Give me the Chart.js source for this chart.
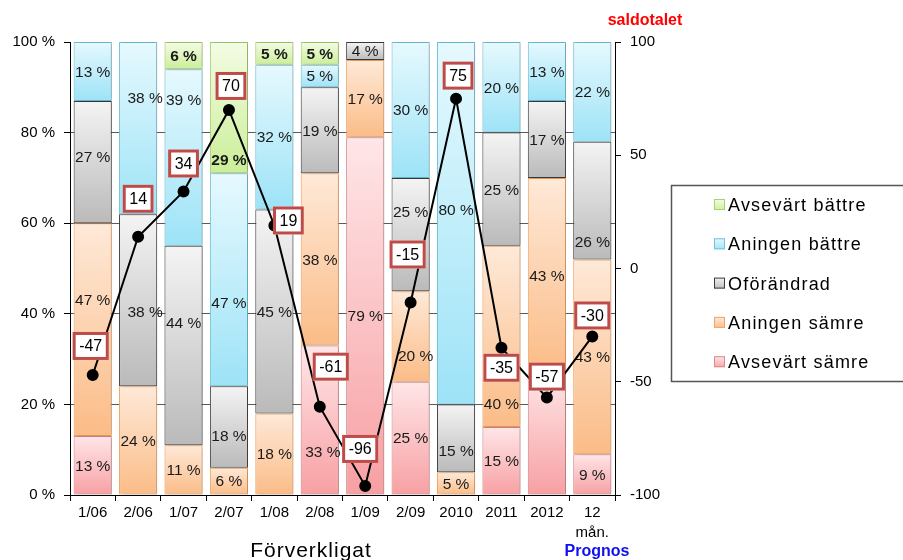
<!DOCTYPE html>
<html><head><meta charset="utf-8">
<script src="https://cdn.jsdelivr.net/npm/chart.js@4/dist/chart.umd.min.js"></script>
<style>html,body{margin:0;padding:0;background:#fff}#wrap{width:903px;height:560px;position:relative}</style>
</head><body><div id="wrap"><canvas id="c" width="903" height="560"></canvas></div>
<script>
// ---------- DATA ----------
const categories = ['1/06','2/06','1/07','2/07','1/08','2/08','1/09','2/09','2010','2011','2012',['12','mån.']];
const avsevartSamre  = [13, 0, 0, 0, 0,33,79,25, 0,15,27, 9];
const aningenSamre   = [47,24,11, 6,18,38,17,20, 5,40,43,43];
const oforandrad     = [27,38,44,18,45,19, 4,25,15,25,17,26];
const aningenBattre  = [13,38,39,47,32, 5, 0,30,80,20,13,22];
const avsevartBattre = [ 0, 0, 6,29, 5, 5, 0, 0, 0, 0, 0, 0];
const saldotalet     = [-47,14,34,70,19,-61,-96,-15,75,-35,-57,-30];
const seriesNames = ['Avsevärt sämre','Aningen sämre','Oförändrad','Aningen bättre','Avsevärt bättre'];
const leftTicks  = [0,20,40,60,80,100];
const rightTicks = [-100,-50,0,50,100];

// ---------- STYLE ----------
const FONT = "'Liberation Sans', Arial, sans-serif";
const seriesData = [avsevartSamre, aningenSamre, oforandrad, aningenBattre, avsevartBattre];
const seriesStyle = [
  {top:'#ffe6e8', bottom:'#f7a0a3', border:'#dc8a8c'},
  {top:'#fee9d8', bottom:'#fbbc87', border:'#f7a45e'},
  {top:'#f4f4f4', bottom:'#bababa', border:'#3c3c3c'},
  {top:'#e6f9fe', bottom:'#9de3f7', border:'#70c3d8'},
  {top:'#f3fce5', bottom:'#cbee98', border:'#a8d070'}
];
// manual label nudges (px) copied from the reference layout
const labelDy = [
  [0,0,0,0,0,32,0,0,0,0,-57,0],
  [-30,0,0,0,0,0,0,19,0,67,0,0],
  [-5,12,-23,9,0,0,0,-23,12,0,0,41],
  [0,-30,-58,0,0,0,0,0,-13,0,0,0],
  [0,0,0,52,0,0,0,0,0,0,0,0]
];
labelDy[3][3] = 23;
const labelDx = [
  [0,0,0,0,0,3,0,0,0,0,0,0],
  [0,0,0,0,0,0,0,5,0,0,0,0],
  [0,7,0,0,0,0,0,0,0,0,0,0],
  [0,7,0,0,0,0,0,0,0,0,0,0],
  [0,0,0,0,0,0,0,0,0,0,0,0]
];
const saldoLabelOffset = [[-2,-29],[0,-38],[0,-28],[2,-24],[14,-5],[11,-40],[-5,-37],[-3,-48],[2,-23],[0,20],[0,-21],[0,-21]];

function gradFor(si){
  return (c) => {
    const st = seriesStyle[si];
    const chart = c.chart;
    if (!chart.chartArea || c.type !== 'data' || !chart.scales.y) return st.bottom;
    const ys = chart.scales.y;
    let start = 0;
    for (let k = 0; k < si; k++) start += seriesData[k][c.dataIndex];
    const v = seriesData[si][c.dataIndex];
    const y0 = ys.getPixelForValue(start), y1 = ys.getPixelForValue(start + v);
    if (!isFinite(y0) || !isFinite(y1) || Math.abs(y0 - y1) < 0.5) return st.bottom;
    const g = chart.ctx.createLinearGradient(0, y1, 0, y0);
    g.addColorStop(0, st.top); g.addColorStop(1, st.bottom);
    return g;
  };
}

const barDatasets = seriesData.map((d, si) => ({
  type:'bar', label: seriesNames[si], data: d, yAxisID:'y', xAxisID:'x', order: 1,
  backgroundColor: gradFor(si), borderColor: seriesStyle[si].border, borderWidth: 1,
  borderSkipped: false, barPercentage: 0.84, categoryPercentage: 1.0, stack: 's'
}));

const lineDataset = {
  type:'line', label:'saldotalet', data: saldotalet, yAxisID:'y2', xAxisID:'x', order: 0,
  borderColor:'#000', borderWidth: 2, backgroundColor:'#000', pointBackgroundColor:'#000',
  pointBorderColor:'#000', pointRadius: 5, tension: 0, fill: false
};

const shadowPlugin = {
  id:'shadow',
  beforeDatasetDraw(chart, args){
    if (args.meta.type !== 'bar') return;
    const ctx = chart.ctx; ctx.save();
    ctx.shadowColor = 'rgba(0,0,0,0.22)'; ctx.shadowBlur = 4; ctx.shadowOffsetX = 2; ctx.shadowOffsetY = 0;
  },
  afterDatasetDraw(chart, args){
    if (args.meta.type !== 'bar') return;
    chart.ctx.restore();
  }
};

function drawBarLabels(chart){
  const ctx = chart.ctx;
  ctx.save();
  ctx.textAlign = 'center'; ctx.textBaseline = 'middle'; ctx.fillStyle = '#1a1a1a';
  for (let si = 0; si < seriesData.length; si++){
    const meta = chart.getDatasetMeta(si);
    ctx.font = (si === 4 ? 'bold ' : '') + '15.5px ' + FONT;
    seriesData[si].forEach((v, i) => {
      if (!v) return;
      const el = meta.data[i];
      const x = el.x + labelDx[si][i];
      const y = (el.y + el.base) / 2 + labelDy[si][i];
      ctx.fillText(v + ' %', x, y + 1);
    });
  }
  ctx.restore();
}

const labelPlugin = {
  id:'labels',
  beforeDatasetDraw(chart, args){
    if (args.meta.type === 'line') drawBarLabels(chart);
  },
  afterDatasetsDraw(chart){
    const ctx = chart.ctx;
    const meta = chart.getDatasetMeta(5);
    ctx.save();
    ctx.font = '16px ' + FONT;
    ctx.textAlign = 'center'; ctx.textBaseline = 'middle';
    saldotalet.forEach((v, i) => {
      const p = meta.data[i];
      const cx = p.x + saldoLabelOffset[i][0], cy = p.y + saldoLabelOffset[i][1];
      const txt = String(v);
      const w = ctx.measureText(txt).width + 13, h = 28;
      ctx.fillStyle = '#fff';
      ctx.fillRect(cx - w/2, cy - h/2, w, h);
      ctx.lineWidth = 3; ctx.strokeStyle = '#be4b48';
      ctx.strokeRect(cx - w/2 + 1.5, cy - h/2 + 1.5, w - 3, h - 3);
      ctx.fillStyle = '#000';
      ctx.fillText(txt, cx, cy + 1);
    });
    ctx.restore();

    // legend
    ctx.save();
    ctx.strokeStyle = '#555'; ctx.lineWidth = 1.5;
    ctx.strokeRect(671.5, 185.5, 260, 196);
    ctx.font = '18px ' + FONT;
    try { ctx.letterSpacing = '1.2px'; } catch(e) {}
    ctx.textAlign = 'left'; ctx.textBaseline = 'middle';
    for (let k = 0; k < 5; k++){
      const si = 4 - k;
      const yc = 205 + k * 39.3;
      const st = seriesStyle[si];
      const g = ctx.createLinearGradient(0, yc - 6, 0, yc + 6);
      g.addColorStop(0, st.top); g.addColorStop(1, st.bottom);
      ctx.fillStyle = g;
      ctx.fillRect(714, yc - 6, 11, 11);
      ctx.lineWidth = 1; ctx.strokeStyle = st.border;
      ctx.strokeRect(714.5, yc - 5.5, 10, 10);
      ctx.fillStyle = '#000';
      ctx.fillText(seriesNames[si], 728, yc + 1);
    }
    ctx.restore();

    // titles
    ctx.save();
    ctx.textAlign = 'center'; ctx.textBaseline = 'middle';
    ctx.font = '21px ' + FONT;
    try { ctx.letterSpacing = '1px'; } catch(e) {}
    ctx.fillStyle = '#000';
    ctx.fillText('Förverkligat', 311, 551);
    try { ctx.letterSpacing = '0px'; } catch(e) {}
    ctx.font = 'bold 16px ' + FONT;
    ctx.fillStyle = '#1010ee';
    ctx.fillText('Prognos', 597, 552);
    ctx.fillStyle = '#ff0000';
    ctx.fillText('saldotalet', 645, 21);
    ctx.restore();
  }
};

const tickFont = {family: FONT, size: 15};
new Chart(document.getElementById('c'), {
  data: { labels: categories, datasets: [...barDatasets, lineDataset] },
  options: {
    responsive: false, animation: false, events: [],
    devicePixelRatio: 1,
    layout: { padding: { left: 0, top: 42, right: 238, bottom: 0 } },
    plugins: { legend: { display: false }, tooltip: { enabled: false } },
    scales: {
      x: {
        stacked: true, offset: true,
        grid: { offset: true, drawOnChartArea: false, tickLength: 6, tickColor: '#000', lineWidth: 1 },
        border: { color: '#000', width: 1 },
        ticks: { font: {family: FONT, size: 15, lineHeight: 1.33}, color: '#000', padding: 2, maxRotation: 0, autoSkip: false },
        afterFit: s => { s.height = 65; }
      },
      y: {
        stacked: true, min: 0, max: 100, position: 'left',
        afterBuildTicks: s => { s.ticks = leftTicks.map(v => ({value: v})); },
        ticks: { font: tickFont, color: '#000', padding: 9, callback: v => v + ' %' },
        grid: { color: c => (c.tick && (c.tick.value === 0 || c.tick.value === 100)) ? 'rgba(0,0,0,0)' : '#5a5a5a',
                tickColor: '#000', tickLength: 6, lineWidth: 1 },
        border: { color: '#000', width: 1 },
        afterFit: s => { s.width = 70; }
      },
      y2: {
        min: -100, max: 100, position: 'right',
        afterBuildTicks: s => { s.ticks = rightTicks.map(v => ({value: v})); },
        ticks: { font: tickFont, color: '#000', padding: 9 },
        grid: { drawOnChartArea: false, tickColor: '#000', tickLength: 6 },
        border: { color: '#000', width: 1 },
        afterFit: s => { s.width = 50; }
      }
    }
  },
  plugins: [shadowPlugin, labelPlugin]
});
</script>
</body></html>
